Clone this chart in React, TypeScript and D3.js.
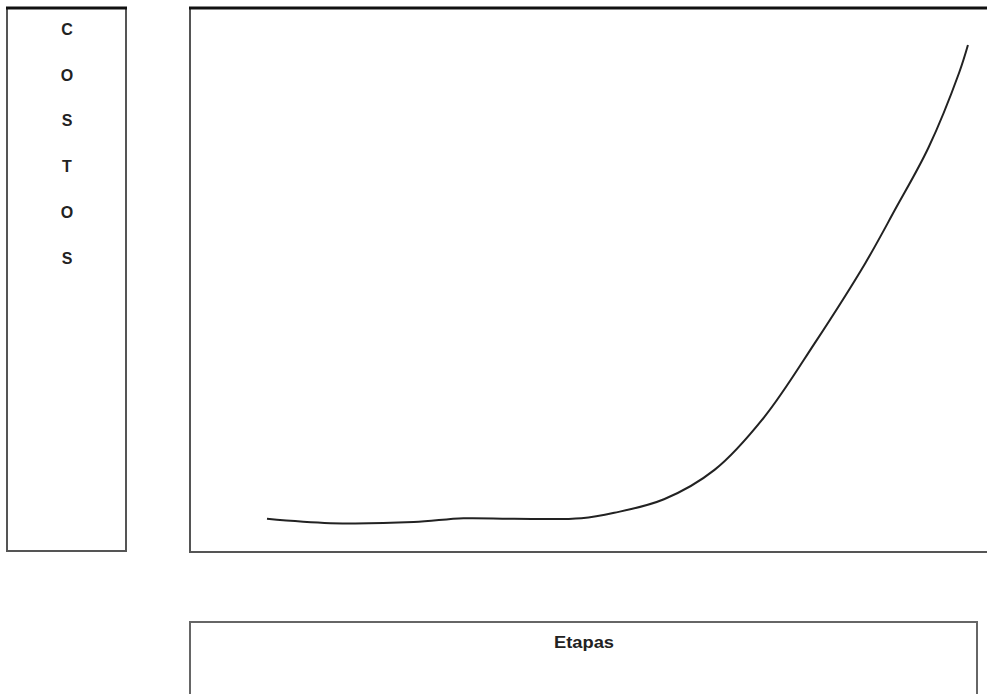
import React from 'react';
import * as d3 from 'd3';

// curve: stage (0..10) vs cost (0..100)
const etapas = [0.96, 1.75, 2.79, 3.41, 4.04, 4.88, 5.29, 5.91, 6.54, 7.16, 7.79, 8.42, 8.79, 9.21, 9.59, 9.7];
const costos = [6.1, 5.3, 5.5, 6.2, 6.1, 6.2, 7.2, 9.7, 15.1, 24.8, 38.4, 53.1, 62.9, 74.4, 88.1, 93.2];
const yLetters = ['C', 'O', 'S', 'T', 'O', 'S'];
const xTitle = 'Etapas';

const W = 987;
const H = 694;
const plot = { left: 190, top: 8, right: 992, bottom: 552 };

const App: React.FC = () => {
  const x = d3.scaleLinear().domain([0, 10]).range([plot.left, plot.right]);
  const y = d3.scaleLinear().domain([0, 100]).range([plot.bottom, plot.top]);
  const letterY = d3.scalePoint<number>().domain(d3.range(yLetters.length)).range([29, 258]);

  const pts = etapas.map((e, i) => [e, costos[i]] as [number, number]);
  const line = d3.line<[number, number]>()
    .x(d => x(d[0]))
    .y(d => y(d[1]))
    .curve(d3.curveCatmullRom.alpha(0.5));

  const font = 'Arial, "Liberation Sans", sans-serif';

  return (
    <div style={{ position: 'absolute', left: 0, top: 0 }}>
      <svg width={W} height={H} style={{ display: 'block', background: '#fff' }}>
        {/* y title box */}
        <rect x={7} y={8} width={119} height={543} fill="#fff" stroke="#555" strokeWidth={2} />
        <line x1={6} x2={127} y1={8} y2={8} stroke="#111" strokeWidth={3} />
        {yLetters.map((l, i) => (
          <text key={i} x={67} y={letterY(i)} dy="0.36em" textAnchor="middle"
            fontFamily={font} fontWeight="bold" fontSize={16} fill="#222">{l}</text>
        ))}

        {/* plot box */}
        <rect x={plot.left} y={plot.top} width={plot.right - plot.left} height={plot.bottom - plot.top}
          fill="#fff" stroke="#555" strokeWidth={2} />
        <line x1={plot.left - 1} x2={W} y1={plot.top} y2={plot.top} stroke="#111" strokeWidth={3} />
        <path d={line(pts) ?? ''} fill="none" stroke="#222" strokeWidth={2} />

        {/* x title box */}
        <rect x={190} y={622} width={787} height={90} fill="#fff" stroke="#666" strokeWidth={2} />
        <text x={584} y={648} textAnchor="middle" fontFamily={font} fontWeight="bold"
          fontSize={16} fill="#222" textLength={60} lengthAdjust="spacingAndGlyphs">{xTitle}</text>
      </svg>
    </div>
  );
};

export default App;
